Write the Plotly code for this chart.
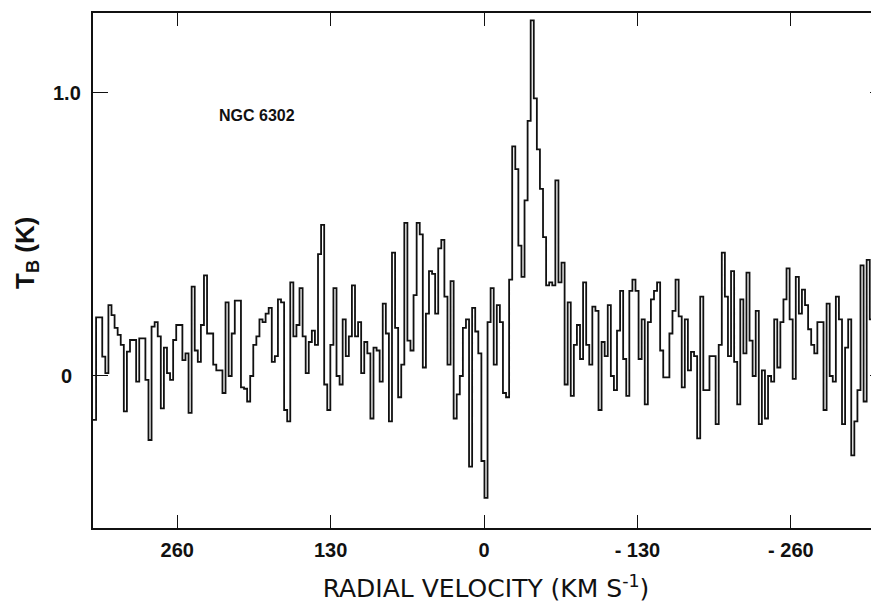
import plotly.graph_objects as go

# Brightness temperature (K) per channel, read left (high velocity) to right
tb_a = [-0.155, 0.207, 0.207, 0.068, 0.01, 0.25, 0.215, 0.17, 0.145, 0.11, -0.125, 0.086, 0.127, 0.127,
        -0.02, 0.133, 0.133, -0.014, -0.226, 0.174, 0.19, 0.14, -0.114, 0.1, 0.01, -0.014, 0.127, 0.18,
        0.18, 0.056, 0.08]
tb_b = [-0.13, 0.315, 0.09, 0.05, 0.18, 0.355, 0.15, 0.15, 0.04, 0.02, 0.02, -0.06, 0.26, 0.0, 0.15,
        0.266, 0.266, -0.04, -0.045, -0.09, 0.0, 0.11, 0.14, 0.2, 0.19, 0.22, 0.24, 0.05, 0.07, 0.27,
        0.26, -0.12]
tb_c = [-0.16, 0.33, 0.14, 0.18, 0.31, 0.14, 0.01, 0.12, 0.16, 0.11, 0.43, 0.533, -0.03, -0.12, 0.11,
        0.31, 0.0, -0.03, 0.2, 0.07, 0.14, 0.32, 0.14, 0.19, 0.01, 0.12, 0.08, -0.15, 0.1, 0.09, -0.02]
tb_d = [0.255, 0.15, -0.16, 0.435, 0.17, -0.075, 0.04, 0.54, 0.125, 0.09, 0.285, 0.54, 0.5, 0.03, 0.22,
        0.37, 0.36, 0.22, 0.45, 0.48, 0.28, 0.04, 0.335, -0.15, -0.065, 0.0, 0.17, 0.2, -0.32, 0.24]
tb_e = [0.157, 0.08, -0.3, -0.43, 0.19, 0.31, 0.04, 0.25, 0.19, -0.06, -0.075, 0.34, 0.81, 0.73, 0.46,
        0.35, 0.62, 0.9, 1.255, 0.98, 0.8, 0.66, 0.49, 0.32, 0.33, 0.32, 0.69, 0.33, 0.4, -0.03]
tb_f = [0.26, -0.07, 0.11, 0.18, 0.06, 0.33, 0.11, 0.04, 0.245, 0.23, -0.12, 0.12, 0.07, 0.25, 0.0,
        -0.05, 0.16, 0.3, 0.06, -0.07, 0.3, 0.34, 0.3, 0.06, 0.2, -0.1, 0.19, 0.27, 0.3]
tb_g = [0.33, 0.09, -0.005, -0.005, 0.15, 0.23, 0.34, 0.21, -0.04, 0.2, 0.02, 0.085, 0.07, -0.22, 0.28,
        -0.05, -0.05, 0.07, 0.07, -0.17, 0.11, 0.435, 0.28, 0.07, 0.37, 0.05, -0.1, 0.27, 0.08, 0.365,
        0.125, 0.0, 0.23]
tb_h = [-0.17, 0.02, -0.15, 0.0, -0.02, 0.2, 0.03, 0.19, 0.27, 0.38, 0.2, -0.01, 0.35, 0.22, 0.305,
        0.25, 0.165, 0.11, 0.08, 0.19, 0.19, -0.12, 0.255, 0.0, -0.02, 0.28, 0.2, -0.17, 0.1, 0.2, -0.28,
        -0.16, -0.05, 0.39, -0.09, 0.41, 0.2, 0.0, 0.51]

tb = tb_a + tb_b + tb_c + tb_d + tb_e + tb_f + tb_g + tb_h

# velocity coverage of the spectrum (km/s), high velocity on the left
v_start = 331.4
v_end = -334.7

x_tickvals = [260, 130, 0, -130, -260]
x_ticktext = ["260", "130", "0", "- 130", "- 260"]
y_tickvals = [0, 1.0]
y_ticktext = ["0", "1.0"]

n = len(tb)
dv = (v_start - v_end) / n
edges = [v_start - i * dv for i in range(n + 1)]
yvals = tb + [tb[-1]]

y_range = [-0.5365, 1.281]
FONT = "Liberation Sans, Arial, sans-serif"
TITLE_FONT = "DejaVu Sans, Liberation Sans, sans-serif"
INK = "#111111"

fig = go.Figure()
fig.add_trace(go.Scatter(x=edges, y=yvals, mode="lines",
                         line=dict(shape="hv", color=INK, width=1.8),
                         hoverinfo="skip", showlegend=False))
fig.add_trace(go.Scatter(x=[edges[0]], y=[tb[0]], yaxis="y2", mode="lines",
                         line=dict(width=0), hoverinfo="skip", showlegend=False))

# the page body adds an 8 px margin, so the figure is sized to fit the 879x603 window
fig.update_layout(
    width=871, height=595,
    margin=dict(l=85, r=0, t=5, b=75),
    paper_bgcolor="white", plot_bgcolor="white",
    font=dict(family=FONT, color=INK),
    xaxis=dict(range=[v_start, v_end], tickvals=x_tickvals, ticktext=x_ticktext,
               ticks="inside", ticklen=13, tickwidth=1.3, tickcolor=INK,
               showline=True, linecolor=INK, linewidth=1.5, mirror="ticks",
               showgrid=False, zeroline=False, ticklabelstandoff=3,
               tickfont=dict(family=FONT, size=20, weight="bold", color=INK),
               title=dict(text="RADIAL VELOCITY (KM S<sup>-1</sup>)",
                          font=dict(family=TITLE_FONT, size=25, color=INK), standoff=26)),
    yaxis=dict(range=y_range, tickvals=y_tickvals, ticks="inside", ticklen=15, tickwidth=1.3,
               tickcolor=INK, showticklabels=False, showline=True, linecolor=INK,
               linewidth=1.5, mirror=False, showgrid=False, zeroline=False),
    yaxis2=dict(range=y_range, overlaying="y", side="right", tickvals=y_tickvals, ticks="inside",
                ticklen=9, tickwidth=1.3, tickcolor=INK, showticklabels=False,
                showline=False, showgrid=False, zeroline=False),
)

for val, txt in zip(y_tickvals, y_ticktext):
    fig.add_annotation(x=-0.0331, xref="paper", y=val, yref="y", text=txt, showarrow=False,
                       xanchor="center", yanchor="middle",
                       font=dict(family=FONT, size=20, weight="bold", color=INK))

fig.add_annotation(x=0.158, xref="paper", y=0.80, yref="paper", text="NGC 6302", showarrow=False,
                   xanchor="left", yanchor="middle",
                   font=dict(family=FONT, size=16, weight="bold", color=INK))
fig.add_annotation(x=-0.084, xref="paper", y=0.534, yref="paper", text="T<sub>B</sub> (K)",
                   showarrow=False, textangle=-90, xanchor="center", yanchor="middle",
                   font=dict(family=FONT, size=26, weight="bold", color=INK))

fig.write_html("out.html")
